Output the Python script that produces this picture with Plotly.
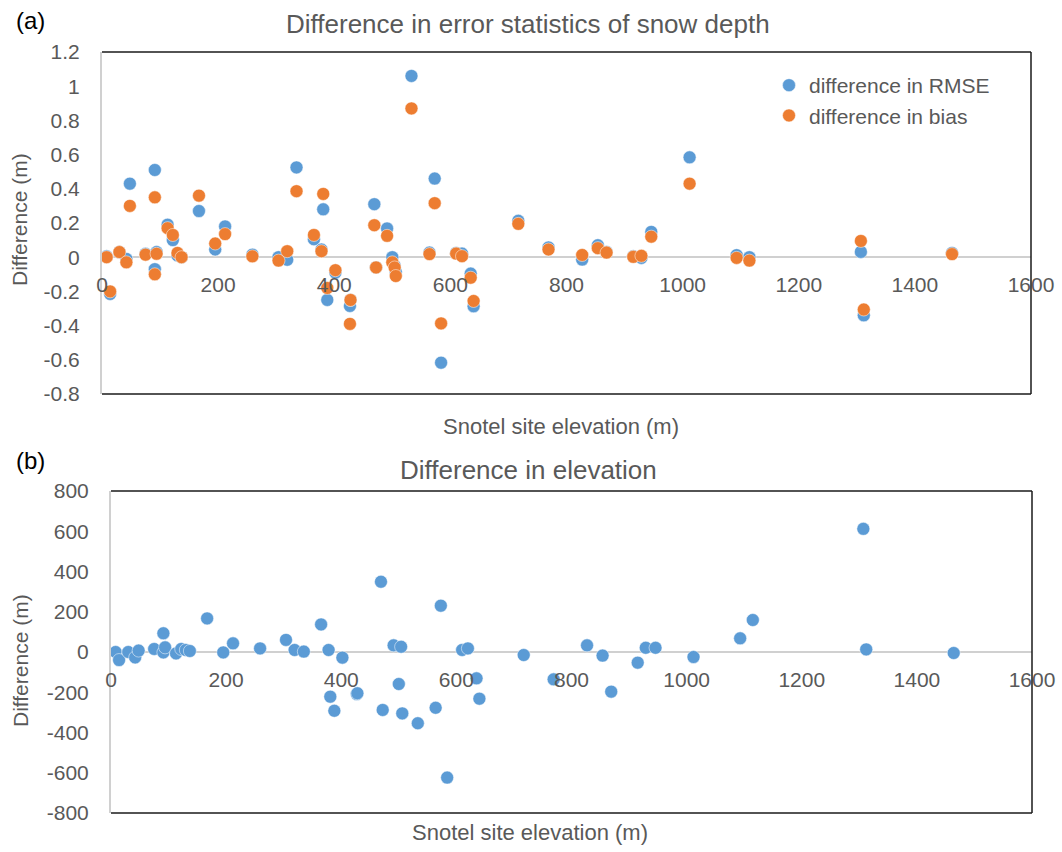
import plotly.graph_objects as go

# ---------------- data ----------------
site_elev = [8, 14, 30, 42, 48, 75, 91, 91, 94, 113, 122, 130, 137, 167, 195, 212,
             259, 304, 319, 335, 365, 378, 381, 388, 402, 427, 428, 469, 472, 491,
             500, 504, 506, 533, 564, 573, 584, 610, 620, 635, 640, 717, 769, 827,
             854, 869, 915, 929, 946, 1012, 1093, 1115, 1307, 1312, 1464]

diff_rmse = [0.005, -0.215, 0.03, -0.01, 0.43, 0.02, 0.51, -0.07, 0.03, 0.19, 0.10, 0.01,
             0.0, 0.27, 0.045, 0.18, 0.015, 0.0, -0.015, 0.525, 0.105, 0.045, 0.28, -0.25,
             -0.09, -0.285, -0.25, 0.31, -0.06, 0.168, 0.0, -0.05, -0.086, 1.06, 0.027,
             0.46, -0.617, 0.025, 0.021, -0.096, -0.287, 0.213, 0.057, -0.014, 0.07,
             0.031, 0.005, -0.004, 0.148, 0.584, 0.012, 0.0, 0.031, -0.34, 0.025]

diff_bias = [0.0, -0.20, 0.03, -0.03, 0.30, 0.015, 0.35, -0.10, 0.02, 0.17, 0.13, 0.025,
             0.0, 0.36, 0.08, 0.135, 0.005, -0.02, 0.035, 0.386, 0.13, 0.035, 0.37, -0.18,
             -0.076, -0.39, -0.25, 0.187, -0.06, 0.125, -0.03, -0.06, -0.11, 0.87, 0.018,
             0.316, -0.387, 0.021, 0.006, -0.12, -0.256, 0.195, 0.045, 0.013, 0.053,
             0.027, 0.002, 0.008, 0.12, 0.43, -0.004, -0.02, 0.095, -0.306, 0.018]

diff_elev = [0, -40, 0, -27, 7, 15, 93, -2, 23, -7, 15, 10, 5, 167, -2, 43,
             18, 60, 10, 2, 137, 10, -222, -292, -28, -209, -205, 349, -288, 33,
             -159, 26, -305, -354, -277, 230, -624, 10, 18, -131, -232, -15, -136, 33,
             -18, -197, -53, 21, 21, -25, 68, 159, 612, 13, -5]

x_ticks = [0, 200, 400, 600, 800, 1000, 1200, 1400, 1600]
ya_ticks = [1.2, 1.0, 0.8, 0.6, 0.4, 0.2, 0.0, -0.2, -0.4, -0.6, -0.8]
ya_labels = ["1.2", "1", "0.8", "0.6", "0.4", "0.2", "0", "-0.2", "-0.4", "-0.6", "-0.8"]
yb_ticks = [800, 600, 400, 200, 0, -200, -400, -600, -800]
yb_labels = ["800", "600", "400", "200", "0", "-200", "-400", "-600", "-800"]

# ---------------- styling ----------------
W, H = 1062, 852
BLUE = "#5B9BD5"
ORANGE = "#ED7D31"
GREY_TXT = "#595959"
AXIS_GREY = "#D0D0D0"
FONT = "Liberation Sans, Arial, sans-serif"

def px_x(p):
    return p / W

def px_y(p):
    return 1 - p / H

# panel (a) domain
ax_dom = [px_x(102), px_x(1031)]
ay_dom = [px_y(394), px_y(52)]
ay_rng = [-0.8, 1.2]
# panel (b) domain
bx_dom = [px_x(111), px_x(1032)]
by_dom = [px_y(813), px_y(491)]
by_rng = [-800, 800]

def zero_pos(dom, rng):
    return dom[0] + (0 - rng[0]) / (rng[1] - rng[0]) * (dom[1] - dom[0])

mk = dict(size=13, line=dict(color="white", width=0.5))

fig = go.Figure()
fig.add_trace(go.Scatter(x=site_elev, y=diff_rmse, mode="markers", name="difference in RMSE",
                         marker=dict(color=BLUE, **mk), xaxis="x", yaxis="y"))
fig.add_trace(go.Scatter(x=site_elev, y=diff_bias, mode="markers", name="difference in bias",
                         marker=dict(color=ORANGE, **mk), xaxis="x", yaxis="y"))
fig.add_trace(go.Scatter(x=site_elev, y=diff_elev, mode="markers", name="elevation",
                         marker=dict(color=BLUE, **mk), xaxis="x2", yaxis="y2",
                         showlegend=False))

tickfont = dict(family=FONT, size=21, color=GREY_TXT)

common_x = dict(range=[0, 1600], tickvals=x_ticks, showgrid=False, zeroline=False,
                showline=False, ticks="outside", ticklen=9, tickcolor="rgba(0,0,0,0)",
                tickfont=tickfont, anchor="free", automargin=False)
common_y = dict(showgrid=False, zeroline=True, zerolinecolor=AXIS_GREY, zerolinewidth=2,
                showline=True, linecolor=AXIS_GREY, linewidth=2, automargin=False,
                ticks="outside", ticklen=16, tickcolor="rgba(0,0,0,0)", tickfont=tickfont)

fig.update_layout(
    template="none",
    width=W, height=H, autosize=False,
    margin=dict(l=0, r=0, t=0, b=0, pad=0),
    paper_bgcolor="white", plot_bgcolor="white",
    font=dict(family=FONT, color=GREY_TXT),
    xaxis=dict(domain=ax_dom, position=zero_pos(ay_dom, ay_rng), **common_x),
    yaxis=dict(domain=ay_dom, range=ay_rng, tickvals=ya_ticks, ticktext=ya_labels,
               anchor="x", **common_y),
    xaxis2=dict(domain=bx_dom, position=zero_pos(by_dom, by_rng), **common_x),
    yaxis2=dict(domain=by_dom, range=by_rng, tickvals=yb_ticks, ticktext=yb_labels,
                anchor="x2", **common_y),
    legend=dict(x=px_x(769), y=px_y(65), xanchor="left", yanchor="top",
                font=dict(family=FONT, size=21, color=GREY_TXT),
                bgcolor="rgba(0,0,0,0)", borderwidth=0),
    showlegend=True,
)

# plot-area borders (top, right, bottom) for each panel
shapes = []
for xd, yd in [(ax_dom, ay_dom), (bx_dom, by_dom)]:
    ln = dict(color="#1a1a1a", width=1.5)
    shapes.append(dict(type="line", xref="paper", yref="paper", x0=xd[0], x1=xd[1], y0=yd[1], y1=yd[1], line=ln))
    shapes.append(dict(type="line", xref="paper", yref="paper", x0=xd[1], x1=xd[1], y0=yd[0], y1=yd[1], line=ln))
    shapes.append(dict(type="line", xref="paper", yref="paper", x0=xd[0], x1=xd[1], y0=yd[0], y1=yd[0], line=ln))
fig.update_layout(shapes=shapes)

ann = []
def txt(text, x, y, size, color=GREY_TXT, angle=0, xanchor="center"):
    ann.append(dict(text=text, x=px_x(x), y=px_y(y), xref="paper", yref="paper",
                    showarrow=False, textangle=angle, xanchor=xanchor, yanchor="middle",
                    font=dict(family=FONT, size=size, color=color)))

txt("(a)", 14, 20, 24, color="black", xanchor="left")
txt("Difference in error statistics of snow depth", 528, 24, 26)
txt("Difference (m)", 20, 220, 21, angle=-90)
txt("Snotel site elevation (m)", 561, 427, 22)

txt("(b)", 14, 460, 24, color="black", xanchor="left")
txt("Difference in elevation", 528, 470, 26)
txt("Difference (m)", 20, 661, 21, angle=-90)
txt("Snotel site elevation (m)", 530, 832, 22)
fig.update_layout(annotations=ann)

fig.write_html("out.html")
